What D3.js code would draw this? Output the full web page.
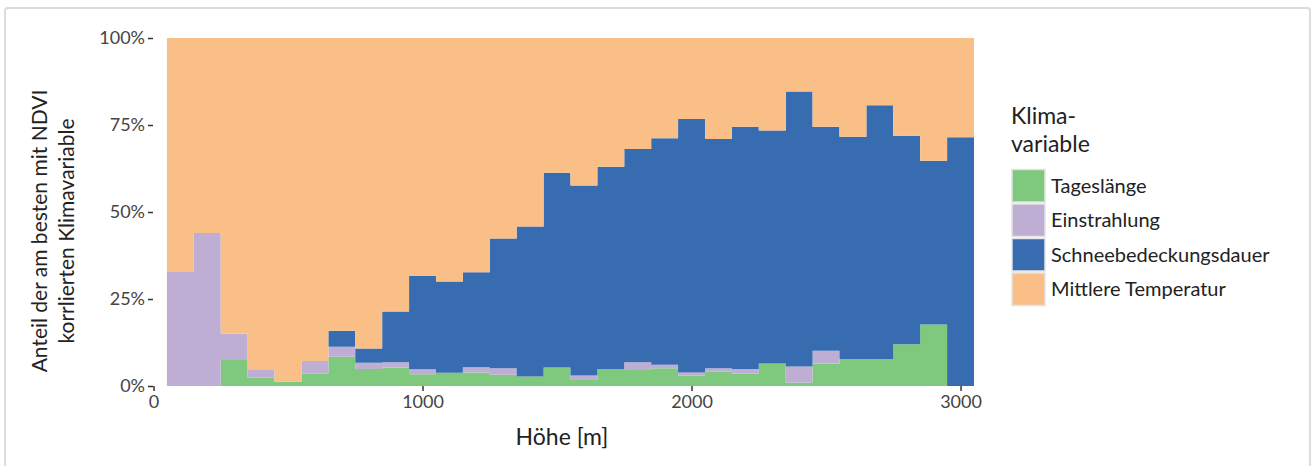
<!DOCTYPE html>
<html>
<head>
<meta charset="utf-8">
<script src="https://cdn.jsdelivr.net/npm/d3@7"></script>
<style>
  body { margin: 0; background: #fff; }
  text { font-family: Lato, "Open Sans", sans-serif; }
</style>
</head>
<body>
<svg width="1314" height="466"></svg>
<script>
// bin centres (m), each bin is 100 m wide
var hoehe = [100, 200, 300, 400, 500, 600, 700, 800, 900, 1000,
             1100, 1200, 1300, 1400, 1500, 1600, 1700, 1800, 1900, 2000,
             2100, 2200, 2300, 2400, 2500, 2600, 2700, 2800, 2900, 3000];

// shares per bin
var tageslaenge = [0, 0, 0.075, 0.024, 0.012, 0.036, 0.084, 0.049, 0.053, 0.034,
                   0.038, 0.039, 0.032, 0.027, 0.053, 0.017, 0.048, 0.046, 0.051, 0.030,
                   0.041, 0.036, 0.065, 0.010, 0.065, 0.077, 0.077, 0.120, 0.177, 0];
var einstrahlung = [0.33, 0.44, 0.076, 0.024, 0, 0.036, 0.029, 0.018, 0.015, 0.014,
                    0, 0.015, 0.019, 0, 0, 0.013, 0, 0.022, 0.010, 0.009,
                    0.010, 0.013, 0, 0.046, 0.036, 0, 0, 0, 0, 0];
var schnee = [0, 0, 0, 0, 0, 0, 0.046, 0.041, 0.146, 0.269,
              0.262, 0.273, 0.373, 0.431, 0.560, 0.546, 0.582, 0.613, 0.651, 0.728,
              0.659, 0.696, 0.669, 0.790, 0.644, 0.639, 0.730, 0.599, 0.470, 0.715];
var temperatur = [0.67, 0.56, 0.849, 0.952, 0.988, 0.928, 0.841, 0.892, 0.786, 0.683,
                  0.700, 0.673, 0.576, 0.542, 0.387, 0.424, 0.370, 0.319, 0.288, 0.233,
                  0.290, 0.255, 0.266, 0.154, 0.255, 0.284, 0.193, 0.281, 0.353, 0.285];

var keys = ["Tageslänge", "Einstrahlung", "Schneebedeckungsdauer", "Mittlere Temperatur"];
var colors = ["#7fc97f", "#beaed4", "#386cb0", "#f9bf86"];
var xTicks = [0, 1000, 2000, 3000];
var yTicks = [0, 0.25, 0.5, 0.75, 1];

var rows = hoehe.map(function(h, i) {
    return {
        hoehe: h,
        "Tageslänge": tageslaenge[i],
        "Einstrahlung": einstrahlung[i],
        "Schneebedeckungsdauer": schnee[i],
        "Mittlere Temperatur": temperatur[i]
    };
});

var svg = d3.select("svg");

// light frame around the figure
svg.append("rect")
    .attr("x", 5).attr("y", 8)
    .attr("width", 1305).attr("height", 475)
    .attr("rx", 3)
    .attr("fill", "none")
    .attr("stroke", "#dcdcdc")
    .attr("stroke-width", 2);

var x = d3.scaleLinear().domain([0, 3050]).range([153.5, 974]);
var y = d3.scaleLinear().domain([0, 1]).range([386, 38]);
var color = d3.scaleOrdinal().domain(keys).range(colors);

var stack = d3.stack().keys(keys);
var series = stack(rows);

// step outline: two points per bin (left and right edge)
var area = d3.area()
    .x(function(d) { return x(d.x); })
    .y0(function(d) { return y(d.y0); })
    .y1(function(d) { return y(d.y1); });

series.forEach(function(s) {
    var pts = [];
    s.forEach(function(d) {
        var h = d.data.hoehe;
        pts.push({x: h - 50, y0: d[0], y1: d[1]});
        pts.push({x: h + 50, y0: d[0], y1: d[1]});
    });
    svg.append("path")
        .datum(pts)
        .attr("fill", color(s.key))
        .attr("d", area);
});

// axes
var xAxis = svg.append("g")
    .attr("transform", "translate(0,386)")
    .call(d3.axisBottom(x).tickValues(xTicks).tickSize(5).tickPadding(4).tickFormat(d3.format("d")));
var yAxis = svg.append("g")
    .attr("transform", "translate(153,0)")
    .call(d3.axisLeft(y).tickValues(yTicks).tickSize(5).tickPadding(3).tickFormat(d3.format(".0%")));

[xAxis, yAxis].forEach(function(a) {
    a.select(".domain").remove();
    a.selectAll(".tick line").attr("stroke", "#333").attr("stroke-width", 1.5);
    a.selectAll(".tick text")
        .attr("fill", "#444")
        .style("font-size", "18px")
        .style("font-family", "Lato, sans-serif");
});

// axis titles
svg.append("text")
    .attr("x", 562).attr("y", 445)
    .attr("text-anchor", "middle")
    .attr("fill", "#222")
    .style("font-size", "23px")
    .text("Höhe [m]");

var yt = svg.append("text")
    .attr("transform", "translate(0,231) rotate(-90)")
    .attr("text-anchor", "middle")
    .attr("fill", "#222")
    .style("font-size", "21px");
yt.append("tspan").attr("x", 0).attr("y", 47).text("Anteil der am besten mit NDVI");
yt.append("tspan").attr("x", 0).attr("y", 74).text("korrlierten Klimavariable");

// legend
var lg = svg.append("g").attr("transform", "translate(1011,0)");
lg.append("text").attr("x", 0).attr("y", 124).attr("fill", "#222")
    .style("font-size", "23px").text("Klima-");
lg.append("text").attr("x", 0).attr("y", 152).attr("fill", "#222")
    .style("font-size", "23px").text("variable");

var item = lg.selectAll(".item")
    .data(keys)
    .enter().append("g")
    .attr("class", "item")
    .attr("transform", function(d, i) { return "translate(0," + (169 + i * 34.5) + ")"; });
item.append("rect")
    .attr("x", 1).attr("y", 0.5)
    .attr("width", 33).attr("height", 32.5)
    .attr("fill", function(d) { return color(d); })
    .attr("stroke", "#e4e4e4")
    .attr("stroke-width", 1.5);
item.append("text")
    .attr("x", 40).attr("y", 16.5)
    .attr("dy", "0.35em")
    .attr("fill", "#222")
    .style("font-size", "20px")
    .text(function(d) { return d; });
</script>
</body>
</html>
